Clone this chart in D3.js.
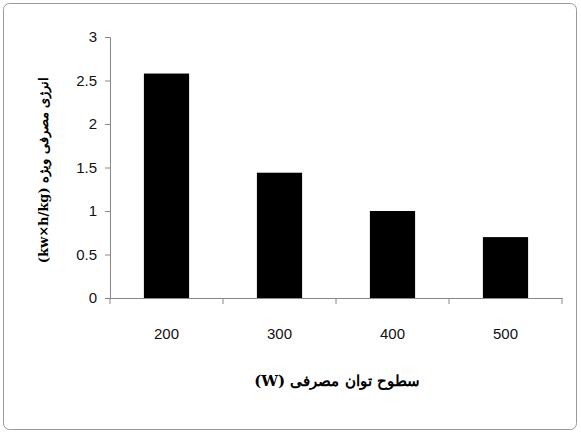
<!DOCTYPE html>
<html><head><meta charset="utf-8">
<script src="https://cdn.jsdelivr.net/npm/d3@7"></script>
<style>body{margin:0;background:#fff}</style>
</head><body>
<script>
var categories = ['200', '300', '400', '500']
var values = [2.58, 1.44, 1.0, 0.7]
var yTicks = [0, 0.5, 1, 1.5, 2, 2.5, 3]

var svg = d3.select('body').append('svg').attr('width', 581).attr('height', 434)

// outer frame
svg.append('rect').attr('x', 3.5).attr('y', 3.5).attr('width', 573).attr('height', 426)
  .attr('rx', 6).attr('fill', '#fff').attr('stroke', '#999')

var x = d3.scaleBand().domain(categories).range([110, 562]).paddingInner(0.6).paddingOuter(0.3)
var y = d3.scaleLinear().domain([0, 3]).range([298, 37])

svg.selectAll('rect.bar').data(values).enter().append('rect')
  .attr('class', 'bar')
  .attr('x', function(d, i){ return x(categories[i]) })
  .attr('width', x.bandwidth())
  .attr('y', function(d){ return y(d) })
  .attr('height', function(d){ return y(0) - y(d) })
  .attr('fill', '#000')

var yAxis = svg.append('g').attr('transform', 'translate(110,0)')
  .call(d3.axisLeft(y).tickValues(yTicks).tickSize(5).tickPadding(8).tickFormat(d3.format('')))
var xAxis = svg.append('g').attr('transform', 'translate(0,298)')
  .call(d3.axisBottom(x).tickSize(0).tickPadding(30))

// category boundary ticks
var bounds = d3.range(categories.length + 1).map(function(i){ return 110 + i * x.step() * (452 / (x.step() * 4)) })
xAxis.selectAll('line.b').data(bounds).enter().append('line').attr('class', 'b')
  .attr('x1', function(d){ return d }).attr('x2', function(d){ return d })
  .attr('y1', 0).attr('y2', 6).attr('stroke', '#888')

svg.selectAll('.domain').attr('stroke', '#888')
yAxis.selectAll('line').attr('stroke', '#888')
svg.selectAll('.tick text').attr('font-family', 'Liberation Sans Narrow, Liberation Sans, sans-serif')
  .attr('font-size', 15).attr('fill', '#111')

svg.append('text').attr('x', 337).attr('y', 386).attr('text-anchor', 'middle')
  .attr('font-family', 'DejaVu Serif, serif').attr('font-size', 15).attr('font-weight', 'bold')
  .attr('direction', 'rtl').text('سطوح توان مصرفی (W)')

svg.append('text').attr('transform', 'translate(48,170) rotate(-90)').attr('text-anchor', 'middle')
  .attr('font-family', 'DejaVu Serif, serif').attr('font-size', 13).attr('font-weight', 'bold')
  .attr('direction', 'rtl').text('انرژی مصرفی ویژه (kw×h/kg)')
</script>
</body></html>
